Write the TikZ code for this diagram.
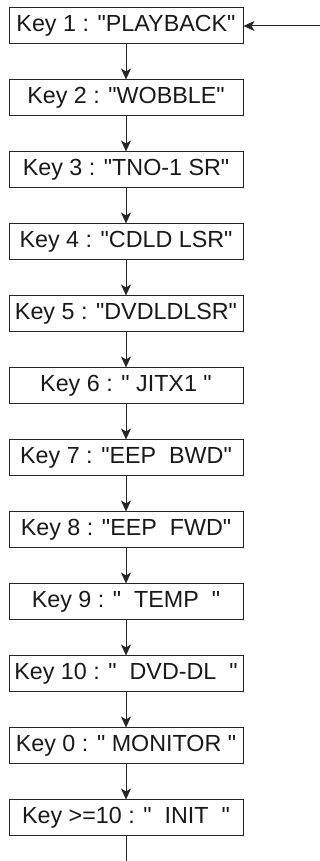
\documentclass[tikz,border=0pt]{standalone}
\usepackage{fontspec}
\setmainfont{Liberation Sans}[Ligatures=TeXOff]
\usetikzlibrary{arrows.meta}
\begin{document}
\begin{tikzpicture}[x=1pt,y=1pt,
  keybox/.style={draw=black!85, line width=1pt, minimum width=234pt, minimum height=36pt, inner sep=0pt,
    font=\fontsize{23.3}{28}\selectfont, text=black!90},
  flow/.style={draw=black!85, line width=1pt, -{Stealth[length=11pt,width=10pt,inset=3pt]}}]
\useasboundingbox (0,0) rectangle (320,861);
\node[keybox] (k1) at (126,835) {Key 1 : "PLAYBACK"};
\node[keybox] (k2) at (126,763) {Key 2 : "WOBBLE"};
\node[keybox] (k3) at (126,691) {Key 3 : "TNO-1 SR"};
\node[keybox] (k4) at (126,619) {Key 4 : "CDLD LSR"};
\node[keybox] (k5) at (126,547) {Key 5 : "DVDLDLSR"};
\node[keybox] (k6) at (126,475) {Key 6 : " JITX1 "};
\node[keybox] (k7) at (126,403) {Key 7 : "EEP\ \ BWD"};
\node[keybox] (k8) at (126,331) {Key 8 : "EEP\ \ FWD"};
\node[keybox] (k9) at (126,259) {Key 9 : "\ \ TEMP\ \ "};
\node[keybox] (k10) at (126,187) {Key 10 : "\ \ DVD-DL\ \ "};
\node[keybox] (k0) at (126,115) {Key 0 : " MONITOR "};
\node[keybox] (kinit) at (126,43) {Key >=10 : "\ \ INIT\ \ "};
\coordinate (in) at (320,835);
\coordinate (out) at (126,0);
\draw[flow] (in) -- (k1.east);
\draw[flow] (k1) -- (k2);
\draw[flow] (k2) -- (k3);
\draw[flow] (k3) -- (k4);
\draw[flow] (k4) -- (k5);
\draw[flow] (k5) -- (k6);
\draw[flow] (k6) -- (k7);
\draw[flow] (k7) -- (k8);
\draw[flow] (k8) -- (k9);
\draw[flow] (k9) -- (k10);
\draw[flow] (k10) -- (k0);
\draw[flow] (k0) -- (kinit);
\draw[draw=black!85, line width=1pt] (kinit) -- (out);
\end{tikzpicture}
\end{document}
